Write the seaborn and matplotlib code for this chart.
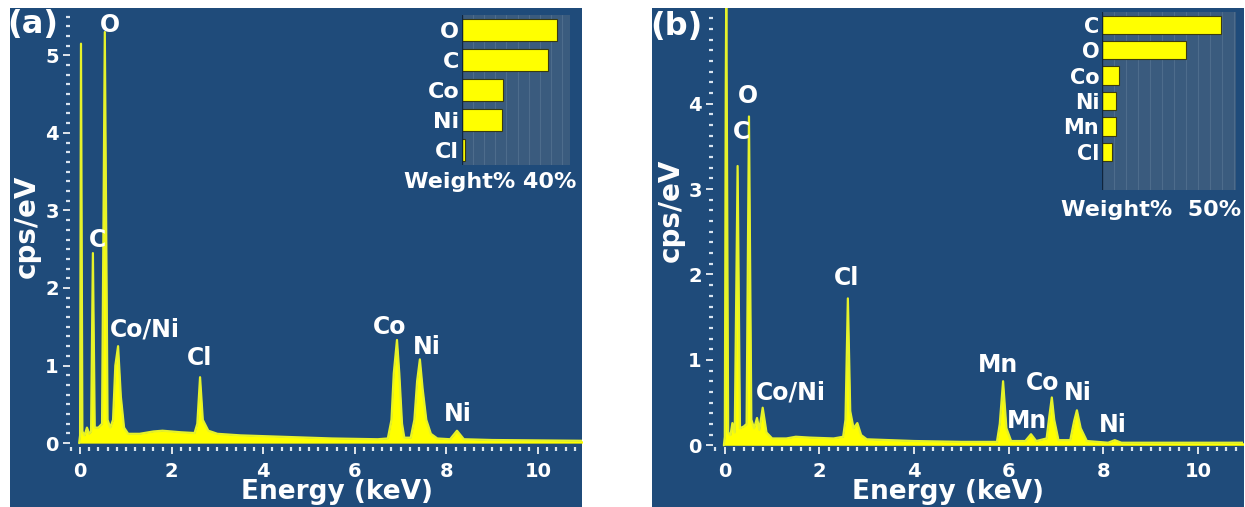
import numpy as np
import pandas as pd
import matplotlib
matplotlib.use("Agg")
import matplotlib.pyplot as plt
from matplotlib.patches import Rectangle
from matplotlib.ticker import MultipleLocator
import seaborn as sns

# ---------------- data ----------------
# Panel (a) spectrum outline (energy keV, cps/eV)
energy_a = [-0.02, 0.00, 0.02, 0.05, 0.10, 0.15, 0.20, 0.24, 0.28, 0.32, 0.40, 0.48, 0.54, 0.60,
            0.66, 0.72, 0.77, 0.83, 0.89, 0.96, 1.05, 1.30, 1.60, 1.80, 2.20, 2.50, 2.56, 2.62,
            2.68, 2.80, 3.00, 3.50, 4.50, 5.50, 6.50, 6.72, 6.80, 6.85, 6.92, 6.97, 7.03, 7.08,
            7.22, 7.30, 7.36, 7.42, 7.48, 7.56, 7.66, 7.80, 8.08, 8.23, 8.38, 9.00, 11.0]
cps_a = [0.00, 0.10, 5.15, 0.15, 0.10, 0.20, 0.12, 0.15, 2.45, 0.20, 0.20, 0.25, 5.30, 0.30,
         0.20, 0.30, 1.00, 1.25, 0.60, 0.20, 0.12, 0.12, 0.15, 0.16, 0.14, 0.13, 0.25, 0.85,
         0.30, 0.16, 0.12, 0.10, 0.08, 0.06, 0.05, 0.06, 0.30, 0.90, 1.33, 0.90, 0.25, 0.07,
         0.07, 0.30, 0.80, 1.08, 0.70, 0.30, 0.12, 0.06, 0.05, 0.16, 0.05, 0.04, 0.03]

# Panel (b) spectrum outline
energy_b = [-0.02, 0.00, 0.02, 0.03, 0.04, 0.07, 0.12, 0.16, 0.21, 0.27, 0.32, 0.40, 0.46, 0.51,
            0.56, 0.62, 0.68, 0.73, 0.80, 0.88, 1.00, 1.30, 1.50, 1.80, 2.30, 2.50, 2.55, 2.60,
            2.65, 2.72, 2.80, 2.88, 3.00, 4.00, 5.00, 5.75, 5.81, 5.88, 5.95, 6.05, 6.35, 6.47,
            6.58, 6.80, 6.86, 6.91, 6.96, 7.05, 7.30, 7.38, 7.44, 7.52, 7.65, 8.10, 8.24, 8.38,
            9.00, 11.0]
cps_b = [0.00, 0.10, 4.20, 5.30, 4.20, 0.15, 0.12, 0.26, 0.15, 3.27, 0.20, 0.22, 0.25, 3.85,
         0.30, 0.20, 0.32, 0.18, 0.44, 0.15, 0.08, 0.08, 0.10, 0.09, 0.08, 0.10, 0.30, 1.72,
         0.40, 0.20, 0.26, 0.12, 0.07, 0.05, 0.04, 0.04, 0.25, 0.75, 0.20, 0.05, 0.05, 0.13,
         0.05, 0.08, 0.35, 0.56, 0.30, 0.06, 0.06, 0.28, 0.41, 0.20, 0.05, 0.03, 0.06, 0.03,
         0.03, 0.03]

# Insets: weight %
elements_a = ["O", "C", "Co", "Ni", "Cl"]
weight_a = [42.7, 38.7, 18.5, 18.0, 1.3]
elements_b = ["C", "O", "Co", "Ni", "Mn", "Cl"]
weight_b = [49.6, 35.3, 7.1, 5.9, 5.9, 4.2]

# Peak labels (text, energy, cps)
labels_a = [("O", 0.65, 5.39), ("C", 0.37, 2.62), ("Co/Ni", 1.42, 1.46), ("Cl", 2.62, 1.10),
            ("Co", 6.77, 1.50), ("Ni", 7.58, 1.24), ("Ni", 8.25, 0.37)]
labels_b = [("O", 0.49, 4.09), ("C", 0.36, 3.67), ("Cl", 2.58, 1.96), ("Co/Ni", 1.40, 0.62),
            ("Mn", 5.77, 0.94), ("Mn", 6.38, 0.29), ("Co", 6.72, 0.73), ("Ni", 7.46, 0.61),
            ("Ni", 8.20, 0.24)]

x_ticks = [0, 2, 4, 6, 8, 10]

# ---------------- style ----------------
BLUE = "#1f4b7a"
INSET_BG = "#3a5b7e"
YELLOW = "#ffff00"
LINE = "#e6f22a"
W, H = 1245, 507

sns.set_style("ticks")
plt.rcParams["font.family"] = ["DejaVu Sans"]
plt.rcParams["font.weight"] = "bold"

fig = plt.figure(figsize=(W / 100, H / 100), dpi=100)
fig.patch.set_facecolor("white")

# panel backgrounds
fig.patches.append(Rectangle((10 / W, 0), (582 - 10) / W, 499 / H, transform=fig.transFigure,
                             facecolor=BLUE, edgecolor="none", zorder=-5))
fig.patches.append(Rectangle((652 / W, 0), (1244 - 652) / W, 499 / H, transform=fig.transFigure,
                             facecolor=BLUE, edgecolor="none", zorder=-5))


def px_axes(l, r, t, b):
    return [l / W, 1 - b / H, (r - l) / W, (b - t) / H]


def draw_panel(rect, energy, cps, xlim, ylim, yticks, labels):
    ax = fig.add_axes(rect)
    ax.set_zorder(1)
    ax.set_facecolor(BLUE)
    df = pd.DataFrame({"energy": energy, "cps": cps})
    ax.fill_between(df["energy"], df["cps"], 0, color=YELLOW, linewidth=0, zorder=2)
    sns.lineplot(data=df, x="energy", y="cps", ax=ax, color=LINE, lw=1.6,
                 estimator=None, sort=False, zorder=3)
    ax.set_xlim(*xlim)
    ax.set_ylim(*ylim)
    ax.set_xticks(x_ticks)
    ax.set_yticks(yticks)
    ax.xaxis.set_minor_locator(MultipleLocator(0.2))
    ax.yaxis.set_minor_locator(MultipleLocator(0.125))
    for s in ax.spines.values():
        s.set_visible(False)
    ax.tick_params(which="major", colors="white", length=5, width=1.2, labelsize=14,
                   labelcolor="white", pad=3)
    ax.tick_params(which="minor", colors="#d8e4f0", length=3, width=1.6)
    ax.tick_params(axis="x", which="major", pad=6)
    for lab in ax.get_xticklabels() + ax.get_yticklabels():
        lab.set_fontweight("bold")
    ax.set_xlabel("")
    ax.set_ylabel("")
    for txt, x, y in labels:
        ax.text(x, y, txt, color="white", fontsize=17, fontweight="bold",
                ha="center", va="center", zorder=5)
    return ax


def draw_inset(rect, elements, weights, xmax, nrows, fs):
    ax = fig.add_axes(rect)
    ax.set_zorder(2)
    ax.set_facecolor(INSET_BG)
    df = pd.DataFrame({"element": elements, "weight": weights})
    sns.barplot(data=df, x="weight", y="element", ax=ax, color=YELLOW, orient="h",
                width=0.72, edgecolor="#3a3a10", linewidth=0.8, saturation=1)
    ax.set_xlim(0, xmax)
    ax.set_ylim(nrows - 0.5, -0.5)
    ax.set_xticks(np.arange(5, xmax, 5))
    ax.set_xticklabels([])
    ax.grid(axis="x", color="#4d6c8c", lw=0.8)
    ax.set_axisbelow(True)
    ax.tick_params(axis="x", length=0)
    ax.tick_params(axis="y", length=0, labelsize=fs, labelcolor="white", pad=2)
    for lab in ax.get_yticklabels():
        lab.set_fontweight("bold")
    for s in ax.spines.values():
        s.set_visible(False)
    ax.axvline(0, color="#10253d", lw=1.0)
    ax.set_xlabel("")
    ax.set_ylabel("")
    return ax


ax_a = draw_panel(px_axes(70, 582, 8, 447), energy_a, cps_a, (-0.22, 10.96),
                  (-0.05, 5.61), [0, 1, 2, 3, 4, 5], labels_a)
ax_b = draw_panel(px_axes(713, 1243, 8, 447), energy_b, cps_b, (-0.25, 10.95),
                  (-0.02, 5.12), [0, 1, 2, 3, 4], labels_b)

draw_inset(px_axes(462, 570, 15, 165), elements_a, weight_a, 48.6, 5, 16)
draw_inset(px_axes(1102, 1236, 12, 190), elements_b, weight_b, 56.0, 7, 15)

# texts
def ftxt(x, y, s, **kw):
    fig.text(x / W, 1 - y / H, s, color="white", fontweight="bold", zorder=10, **kw)

ftxt(7, 24, "(a)", fontsize=23, ha="left", va="center")
ftxt(650, 26, "(b)", fontsize=23, ha="left", va="center")
ftxt(27, 226, "cps/eV", fontsize=20, rotation=90, ha="center", va="center")
ftxt(671, 210, "cps/eV", fontsize=20, rotation=90, ha="center", va="center")
ftxt(337, 492, "Energy (keV)", fontsize=19, ha="center", va="center")
ftxt(948, 492, "Energy (keV)", fontsize=19, ha="center", va="center")
ftxt(490, 182, "Weight% 40%", fontsize=16, ha="center", va="center")
ftxt(1151, 210, "Weight%  50%", fontsize=16, ha="center", va="center")

fig.savefig("out.png", dpi=100, facecolor="white")
